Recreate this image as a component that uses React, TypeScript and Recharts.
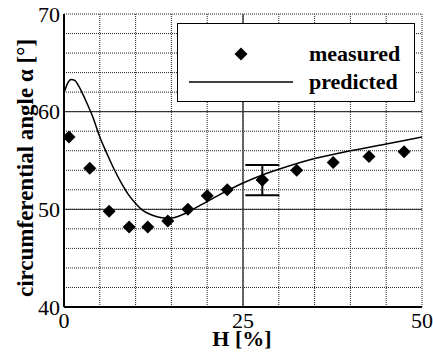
import { ComposedChart, Line, Scatter, XAxis, YAxis, CartesianGrid, ReferenceLine, ErrorBar, Legend } from 'recharts';

// measured points
const measuredH = [0.7, 3.6, 6.3, 9.1, 11.7, 14.5, 17.3, 20.0, 22.8, 27.7, 32.5, 37.6, 42.6, 47.5];
const measuredAngle = [57.4, 54.2, 49.8, 48.2, 48.2, 48.8, 50.0, 51.4, 52.0, 53.0, 54.0, 54.8, 55.4, 55.9];
// error bar only on one point (index 9)
const errorIndex = 9;
const errorSize = 1.55;

// predicted curve
const predictedH = [0, 0.5, 1, 1.5, 2, 3, 4, 5, 6, 7, 8, 9, 10, 11, 12, 13, 14, 15, 16, 17, 18, 19, 20, 22, 25, 28, 30, 35, 40, 45, 50];
const predictedAngle = [61.9, 62.9, 63.3, 63.2, 62.7, 61.2, 59.5, 57.4, 55.7, 54.1, 52.7, 51.5, 50.6, 49.9, 49.5, 49.25, 49.1, 49.1, 49.3, 49.6, 50.0, 50.4, 50.8, 51.6, 52.7, 53.6, 54.1, 55.2, 56.0, 56.7, 57.4];

const xTicks = [0, 5, 10, 15, 20, 25, 30, 35, 40, 45, 50];
const xLabels = [0, 25, 50];
const yTicks = [40, 42, 44, 46, 48, 50, 52, 54, 56, 58, 60, 62, 64, 66, 68, 70];
const yLabels = [40, 50, 60, 70];

const FONT = 'Liberation Serif, Tinos, DejaVu Serif, serif';

const measuredData = measuredH.map((h, i) => ({ h, angle: measuredAngle[i] }));
const errorData = [{ h: measuredH[errorIndex], angle: measuredAngle[errorIndex], err: errorSize }];
const predictedData = predictedH.map((h, i) => ({ h, angle: predictedAngle[i] }));

const Diamond = (props: any) => {
    const { cx, cy } = props;
    const r = 6.5;
    return <polygon points={`${cx},${cy - r} ${cx + r},${cy} ${cx},${cy + r} ${cx - r},${cy}`} fill="#000" />;
};

const LegendBox = () => (
    <div
        style={{
            position: 'absolute',
            left: 177,
            top: 23,
            width: 236,
            height: 77,
            border: '1px solid #000',
            background: '#fff',
        }}
    >
        <svg width={236} height={77} style={{ position: 'absolute', left: 0, top: 0 }}>
            <polygon points="63,23.5 69.5,30 63,36.5 56.5,30" fill="#000" />
            <line x1={11} x2={115} y1={58} y2={58} stroke="#000" strokeWidth={1.5} />
            <text x={131} y={37} style={{ fontFamily: FONT, fontWeight: 'bold', fontSize: 22 }}>measured</text>
            <text x={131} y={65} style={{ fontFamily: FONT, fontWeight: 'bold', fontSize: 22 }}>predicted</text>
        </svg>
    </div>
);

export default function App() {
    return (
        <div style={{ position: 'absolute', left: 0, top: 0, width: 433, height: 354, background: '#fff', fontFamily: FONT }}>
            <ComposedChart width={433} height={354} margin={{ top: 14, right: 11, bottom: 0, left: 0 }}>
                <CartesianGrid stroke="#222" strokeDasharray="1 1" />
                <XAxis
                    dataKey="h"
                    type="number"
                    domain={[0, 50]}
                    ticks={xTicks}
                    tickFormatter={(v: number) => (xLabels.includes(v) ? String(v) : '')}
                    tickLine={false}
                    tickSize={0}
                    tickMargin={5}
                    height={47}
                    axisLine={{ stroke: '#000', strokeWidth: 2 }}
                    tick={{ fill: '#000', fontSize: 22, style: { fontFamily: FONT } }}
                    allowDataOverflow
                />
                <XAxis
                    xAxisId="top"
                    dataKey="h"
                    type="number"
                    orientation="top"
                    domain={[0, 50]}
                    ticks={xTicks}
                    tickFormatter={() => ''}
                    mirror
                    tickSize={6}
                    height={0}
                    axisLine={{ stroke: '#000', strokeWidth: 1.5 }}
                    tickLine={{ stroke: '#000' }}
                />
                <YAxis
                    type="number"
                    domain={[40, 70]}
                    ticks={yTicks}
                    tickFormatter={(v: number) => (yLabels.includes(v) ? String(v) : '')}
                    tickLine={false}
                    tickSize={0}
                    tickMargin={4}
                    width={64}
                    axisLine={{ stroke: '#000', strokeWidth: 2 }}
                    tick={{ fill: '#000', fontSize: 22, style: { fontFamily: FONT } }}
                    allowDataOverflow
                    label={{
                        content: () => (
                            <text
                                x={33}
                                y={168}
                                transform="rotate(-90, 33, 168)"
                                textAnchor="middle"
                                style={{ fontFamily: FONT, fontWeight: 'bold', fontSize: 23 }}
                                fill="#000"
                            >
                                circumferential angle α [°]
                            </text>
                        ),
                    }}
                />
                <YAxis
                    yAxisId="right"
                    type="number"
                    orientation="right"
                    domain={[40, 70]}
                    ticks={yTicks}
                    tickFormatter={() => ''}
                    mirror
                    tickSize={8}
                    width={0}
                    axisLine={{ stroke: '#000', strokeWidth: 1.5 }}
                    tickLine={{ stroke: '#000' }}
                />
                <ReferenceLine y={50} stroke="#222" strokeWidth={1} />
                <ReferenceLine y={60} stroke="#222" strokeWidth={1} />
                <ReferenceLine x={25} stroke="#444" strokeWidth={1.5} />
                <Line
                    data={predictedData}
                    dataKey="angle"
                    type="monotone"
                    stroke="#000"
                    strokeWidth={1.5}
                    dot={false}
                    isAnimationActive={false}
                />
                <Scatter data={measuredData} dataKey="angle" shape={<Diamond />} isAnimationActive={false} />
                <Scatter data={errorData} dataKey="angle" shape={<Diamond />} isAnimationActive={false}>
                    <ErrorBar dataKey="err" direction="y" width={17} stroke="#000" strokeWidth={2} />
                </Scatter>
                <Legend content={() => <LegendBox />} wrapperStyle={{ position: 'absolute', left: 0, top: 0, width: 0, height: 0 }} />
                <text x={242} y={346} textAnchor="middle" fill="#000" style={{ fontFamily: FONT, fontWeight: 'bold', fontSize: 22 }}>
                    H [%]
                </text>
            </ComposedChart>
        </div>
    );
}
